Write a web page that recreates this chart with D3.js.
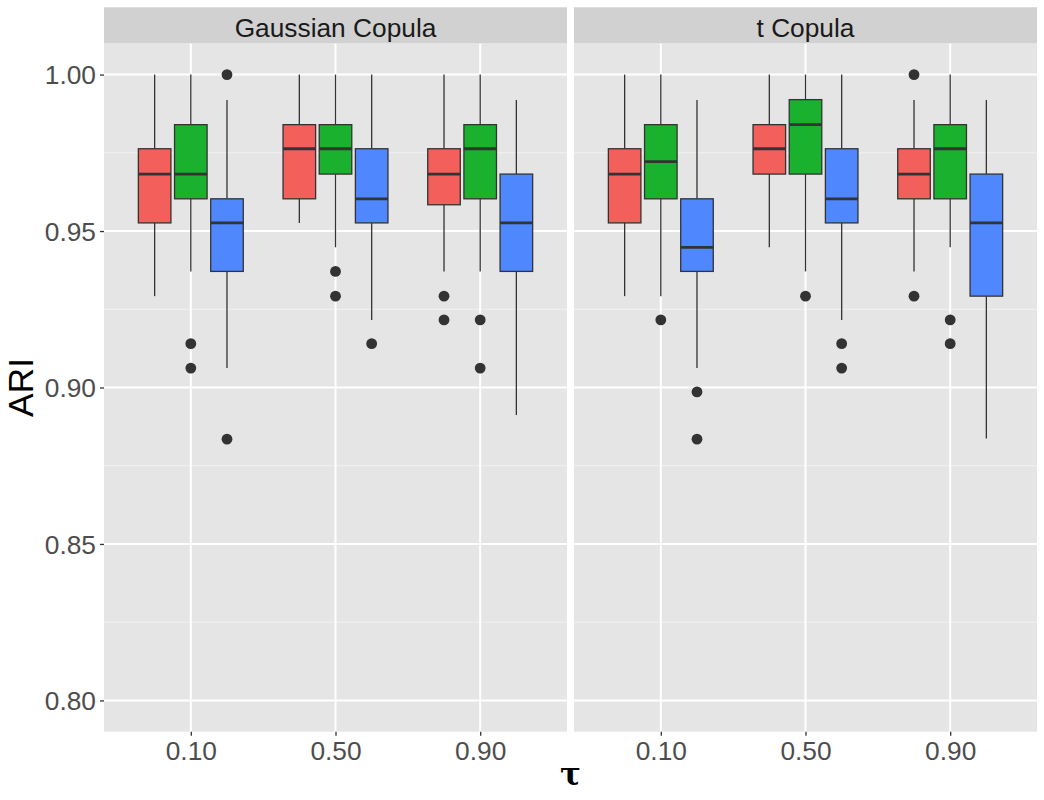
<!DOCTYPE html>
<html>
<head>
<meta charset="utf-8">
<script src="https://cdn.jsdelivr.net/npm/d3@7"></script>
<style>
  body { margin: 0; background: #fff; }
  svg { display: block; }
</style>
</head>
<body>
<svg id="chart" width="1044" height="800"></svg>
<script>
// ---------------- data ----------------
const panels = ["Gaussian Copula", "t Copula"];
const tauLabels = ["0.10", "0.50", "0.90"];
const methods = ["m1", "m2", "m3"];
const methodColors = ["#F35F5B", "#19B12E", "#4F87FF"];
const yTicks = [0.80, 0.85, 0.90, 0.95, 1.00];
const yMinorTicks = [0.825, 0.875, 0.925, 0.975];

// box stats: [ymin, q1, median, q3, ymax], order: tau 0.10 (m1,m2,m3), 0.50 (...), 0.90 (...)
const gaussianStats = [
  [0.9292, 0.9526, 0.9682, 0.9763, 1.0000],
  [0.9371, 0.9603, 0.9682, 0.9840, 1.0000],
  [0.9062, 0.9371, 0.9526, 0.9603, 0.9919],
  [0.9526, 0.9603, 0.9763, 0.9840, 1.0000],
  [0.9448, 0.9682, 0.9763, 0.9840, 1.0000],
  [0.9216, 0.9526, 0.9603, 0.9763, 1.0000],
  [0.9371, 0.9584, 0.9682, 0.9763, 1.0000],
  [0.9371, 0.9603, 0.9763, 0.9840, 1.0000],
  [0.8912, 0.9371, 0.9526, 0.9682, 0.9919]
];
const gaussianOutliers = [
  [],
  [0.9140, 0.9062],
  [1.0000, 0.8835],
  [],
  [0.9371, 0.9292],
  [0.9140],
  [0.9292, 0.9216],
  [0.9216, 0.9062],
  []
];
const tStats = [
  [0.9292, 0.9526, 0.9682, 0.9763, 1.0000],
  [0.9292, 0.9603, 0.9722, 0.9840, 1.0000],
  [0.9062, 0.9371, 0.9448, 0.9603, 0.9919],
  [0.9448, 0.9682, 0.9763, 0.9840, 1.0000],
  [0.9371, 0.9682, 0.9840, 0.9920, 1.0000],
  [0.9216, 0.9526, 0.9603, 0.9763, 1.0000],
  [0.9371, 0.9603, 0.9682, 0.9763, 0.9919],
  [0.9448, 0.9603, 0.9763, 0.9840, 1.0000],
  [0.8837, 0.9292, 0.9526, 0.9682, 0.9919]
];
const tOutliers = [
  [],
  [0.9216],
  [0.8986, 0.8835],
  [],
  [0.9292],
  [0.9140, 0.9062],
  [1.0000, 0.9292],
  [0.9216, 0.9140],
  []
];
const panelStats = [gaussianStats, tStats];
const panelOutliers = [gaussianOutliers, tOutliers];

// ---------------- layout ----------------
const svg = d3.select("#chart");
const panelTop = 43.3, panelBottom = 731.7;
const stripTop = 7.3;
const panelX = [[104, 567], [574, 1037]];
const axisColor = "#333333";
const tickTextColor = "#4D4D4D";
const font = "Liberation Sans, Arial, Helvetica, sans-serif";

const y = d3.scaleLinear().domain([0.79, 1.01]).range([panelBottom, panelTop]);

panels.forEach((pname, pi) => {
  const [x0, x1] = panelX[pi];
  const x = d3.scalePoint().domain(tauLabels).range([x0, x1]).padding(0.6);
  const step = x.step();
  const off = d3.scaleBand().domain(methods).range([-0.375 * step, 0.375 * step]);
  const bw = off.bandwidth() * 0.9;

  const g = svg.append("g");

  // panel background
  g.append("rect").attr("x", x0).attr("y", panelTop)
    .attr("width", x1 - x0).attr("height", panelBottom - panelTop)
    .attr("fill", "#E5E5E5");

  // minor gridlines
  g.selectAll(".minor").data(yMinorTicks).join("line")
    .attr("x1", x0).attr("x2", x1)
    .attr("y1", d => y(d)).attr("y2", d => y(d))
    .attr("stroke", "#F2F2F2").attr("stroke-width", 1);
  // major gridlines
  g.selectAll(".majory").data(yTicks).join("line")
    .attr("x1", x0).attr("x2", x1)
    .attr("y1", d => y(d)).attr("y2", d => y(d))
    .attr("stroke", "#FFFFFF").attr("stroke-width", 2);
  g.selectAll(".majorx").data(tauLabels).join("line")
    .attr("x1", d => x(d)).attr("x2", d => x(d))
    .attr("y1", panelTop).attr("y2", panelBottom)
    .attr("stroke", "#FFFFFF").attr("stroke-width", 2);

  // strip
  g.append("rect").attr("x", x0).attr("y", stripTop)
    .attr("width", x1 - x0).attr("height", panelTop - stripTop)
    .attr("fill", "#D1D1D1");
  g.append("text").attr("x", (x0 + x1) / 2).attr("y", 36.5)
    .attr("text-anchor", "middle").attr("font-family", font)
    .attr("font-size", 26.3).attr("fill", "#1A1A1A").text(pname);

  // boxes
  const boxes = [];
  tauLabels.forEach((t, ti) => {
    methods.forEach((m, mi) => {
      const idx = ti * methods.length + mi;
      boxes.push({
        cx: x(t) + off(m) + off.bandwidth() / 2,
        s: panelStats[pi][idx],
        out: panelOutliers[pi][idx],
        color: methodColors[mi]
      });
    });
  });

  const bg = g.selectAll(".box").data(boxes).join("g");
  // whiskers
  bg.append("line")
    .attr("x1", d => d.cx).attr("x2", d => d.cx)
    .attr("y1", d => y(d.s[3])).attr("y2", d => y(d.s[4]))
    .attr("stroke", axisColor).attr("stroke-width", 1.3);
  bg.append("line")
    .attr("x1", d => d.cx).attr("x2", d => d.cx)
    .attr("y1", d => y(d.s[0])).attr("y2", d => y(d.s[1]))
    .attr("stroke", axisColor).attr("stroke-width", 1.3);
  // box
  bg.append("rect")
    .attr("x", d => d.cx - bw / 2).attr("width", bw)
    .attr("y", d => y(d.s[3])).attr("height", d => y(d.s[1]) - y(d.s[3]))
    .attr("fill", d => d.color).attr("stroke", axisColor).attr("stroke-width", 1.3);
  // median
  bg.append("line")
    .attr("x1", d => d.cx - bw / 2).attr("x2", d => d.cx + bw / 2)
    .attr("y1", d => y(d.s[2])).attr("y2", d => y(d.s[2]))
    .attr("stroke", axisColor).attr("stroke-width", 2.8);
  // outliers
  bg.selectAll("circle").data(d => d.out.map(v => ({ cx: d.cx, v }))).join("circle")
    .attr("cx", d => d.cx).attr("cy", d => y(d.v)).attr("r", 5.4)
    .attr("fill", axisColor);

  // x axis
  const xa = g.append("g").attr("transform", `translate(0,${panelBottom})`)
    .call(d3.axisBottom(x).tickSize(4).tickPadding(6));
  xa.select(".domain").remove();
  xa.selectAll("line").attr("stroke", axisColor).attr("stroke-width", 1.3);
  xa.selectAll("text").attr("font-family", font).attr("font-size", 26.3)
    .attr("fill", tickTextColor).attr("dy", "0.71em");

  if (pi === 0) {
    const ya = g.append("g").attr("transform", `translate(${x0},0)`)
      .call(d3.axisLeft(y).tickValues(yTicks).tickFormat(d3.format(".2f")).tickSize(4).tickPadding(4));
    ya.select(".domain").remove();
    ya.selectAll("line").attr("stroke", axisColor).attr("stroke-width", 1.3);
    ya.selectAll("text").attr("font-family", font).attr("font-size", 26.3)
      .attr("fill", tickTextColor).attr("dy", "0.35em");
  }
});

// axis titles
svg.append("text")
  .attr("transform", `translate(33,${(panelTop + panelBottom) / 2}) rotate(-90)`)
  .attr("text-anchor", "middle").attr("font-family", font)
  .attr("font-size", 35.5).attr("fill", "#000").text("ARI");
svg.append("text")
  .attr("x", (panelX[0][0] + panelX[1][1]) / 2).attr("y", 785)
  .attr("text-anchor", "middle").attr("font-family", "DejaVu Serif, Liberation Serif, serif")
  .attr("font-weight", "bold")
  .attr("font-size", 31).attr("fill", "#000").text("τ");
</script>
</body>
</html>
